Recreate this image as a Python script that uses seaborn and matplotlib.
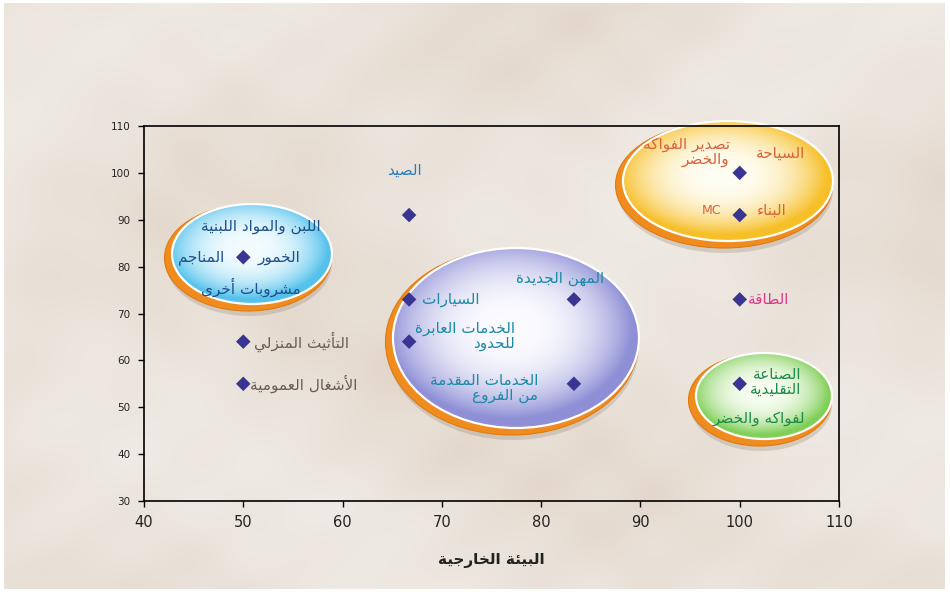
import numpy as np
import pandas as pd
import matplotlib
matplotlib.use("Agg")
import matplotlib.pyplot as plt
from matplotlib.patches import Ellipse
from matplotlib.colors import to_rgb
import seaborn as sns

# ---------------- data ----------------
x_vals = [50, 50, 50, 66.7, 66.7, 66.7, 83.3, 83.3, 100, 100, 100, 100]
y_vals = [82, 64, 55, 91, 73, 64, 73, 55, 100, 91, 73, 55]

x_ticks = [40, 50, 60, 70, 80, 90, 100, 110]
y_ticks = [30, 40, 50, 60, 70, 80, 90, 100, 110]
x_title = "البيئة الخارجية"

# labels: (point index, text)
label_point = [0, 0, 0, 0, 1, 2, 3, 4, 5, 6, 7, 8, 8, 9, 9, 10, 11, 11]
label_text = [
    "اللبن والمواد اللبنية", "المناجم", "الخمور", "مشروبات أخرى",
    "التأثيث المنزلي", "الأشغال العمومية", "الصيد", "السيارات",
    "الخدمات العابرة\nللحدود", "المهن الجديدة", "الخدمات المقدمة\nمن الفروع",
    "السياحة", "تصدير الفواكه\nوالخضر", "البناء", "MC", "الطاقة",
    "الصناعة\nالتقليدية", "لفواكه والخضر",
]

# ---------------- Arabic shaping (contextual forms + RTL order) ----------------
_TABLE = {
    0x0621: (0xFE80, 1), 0x0622: (0xFE81, 2), 0x0623: (0xFE83, 2), 0x0624: (0xFE85, 2),
    0x0625: (0xFE87, 2), 0x0626: (0xFE89, 4), 0x0627: (0xFE8D, 2), 0x0628: (0xFE8F, 4),
    0x0629: (0xFE93, 2), 0x062A: (0xFE95, 4), 0x062B: (0xFE99, 4), 0x062C: (0xFE9D, 4),
    0x062D: (0xFEA1, 4), 0x062E: (0xFEA5, 4), 0x062F: (0xFEA9, 2), 0x0630: (0xFEAB, 2),
    0x0631: (0xFEAD, 2), 0x0632: (0xFEAF, 2), 0x0633: (0xFEB1, 4), 0x0634: (0xFEB5, 4),
    0x0635: (0xFEB9, 4), 0x0636: (0xFEBD, 4), 0x0637: (0xFEC1, 4), 0x0638: (0xFEC5, 4),
    0x0639: (0xFEC9, 4), 0x063A: (0xFECD, 4), 0x0641: (0xFED1, 4), 0x0642: (0xFED5, 4),
    0x0643: (0xFED9, 4), 0x0644: (0xFEDD, 4), 0x0645: (0xFEE1, 4), 0x0646: (0xFEE5, 4),
    0x0647: (0xFEE9, 4), 0x0648: (0xFEED, 2), 0x0649: (0xFEEF, 2), 0x064A: (0xFEF1, 4),
}
_LAMALEF = {0x0622: (0xFEF5, 2), 0x0623: (0xFEF7, 2), 0x0625: (0xFEF9, 2), 0x0627: (0xFEFB, 2)}


def _shape_line(text):
    toks = []
    i = 0
    while i < len(text):
        c = ord(text[i])
        if c == 0x0644 and i + 1 < len(text) and ord(text[i + 1]) in _LAMALEF:
            toks.append(_LAMALEF[ord(text[i + 1])])
            i += 2
        elif c in _TABLE:
            toks.append(_TABLE[c])
            i += 1
        else:
            toks.append(text[i])
            i += 1
    if not any(isinstance(t, tuple) for t in toks):
        return text
    out = []
    for k, t in enumerate(toks):
        if isinstance(t, str):
            out.append(t)
            continue
        start, n = t
        prev = toks[k - 1] if k > 0 else None
        nxt = toks[k + 1] if k + 1 < len(toks) else None
        jp = isinstance(prev, tuple) and prev[1] == 4 and n >= 2
        jn = n == 4 and isinstance(nxt, tuple) and nxt[1] >= 2
        idx = 3 if (jp and jn) else 1 if jp else 2 if jn else 0
        out.append(chr(start + idx))
    return "".join(out[::-1])


def ar(text):
    return "\n".join(_shape_line(l) for l in text.split("\n"))


# ---------------- layout / style ----------------
W, H = 950, 592
fig = plt.figure(figsize=(W / 100, H / 100), dpi=100, facecolor="white")

# soft marble-like background
bg = fig.add_axes([4 / W, 3 / H, 941 / W, 586 / H], zorder=-10)
gy, gx = np.mgrid[0:1:300j, 0:1.6:480j]
v = (0.45 * np.sin(5 * gx + 2.5 * np.sin(4 * gy)) + 0.35 * np.sin(8 * gy + 2 * np.sin(5 * gx))
     + 0.15 * np.sin(29 * gx + 21 * gy + 3 * np.sin(7 * gy))
     + 0.12 * np.sin(37 * gy - 17 * gx + 2 * np.sin(9 * gx)))
v = (v - v.min()) / (v.max() - v.min())
base = np.array(to_rgb("#e6ddd3"))
light = np.array(to_rgb("#efeae4"))
warm = np.array(to_rgb("#e0d2c3"))
tex = base + (light - base) * v[..., None] + (warm - base) * (1 - v[..., None]) ** 4 * 0.6
bg.imshow(np.clip(tex, 0, 1), aspect="auto", extent=[0, 1, 0, 1], interpolation="bicubic")
bg.set_axis_off()

ax = fig.add_axes([144 / W, (H - 501) / H, (839 - 144) / W, (501 - 126) / H])
ax.patch.set_alpha(0)
ax.set_xlim(40, 110)
ax.set_ylim(30, 110)

PX_X = (839 - 144) / 70.0
PX_Y = (501 - 126) / 80.0


def d(px, py):
    return 40 + (px - 144) / PX_X, 110 - (py - 126) / PX_Y


def gradient_ellipse(cpx, cpy, wpx, hpx, center_col, edge_col, rim_dx=-4, rim_dy=4):
    cx, cy = d(cpx, cpy)
    w, h = wpx / PX_X, hpx / PX_Y
    sx, sy = d(cpx + rim_dx + 1, cpy + rim_dy + 5)
    ax.add_patch(Ellipse((sx, sy), (wpx + 6) / PX_X, (hpx + 6) / PX_Y, facecolor="#7a6a58",
                         alpha=0.22, edgecolor="none", zorder=0.5, clip_on=False))
    rx, ry = d(cpx + rim_dx, cpy + rim_dy)
    ax.add_patch(Ellipse((rx, ry), (wpx + 7) / PX_X, (hpx + 6) / PX_Y, facecolor="#f08c1e",
                         edgecolor="#e07a12", lw=0.8, zorder=0.6, clip_on=False))
    ell = Ellipse((cx, cy), w, h, facecolor="none", edgecolor="white", lw=1.6,
                  zorder=0.8, clip_on=False)
    ax.add_patch(ell)
    yy, xx = np.mgrid[-1:1:200j, -1:1:300j]
    r = np.clip(np.sqrt((xx + 0.05) ** 2 + (yy - 0.1) ** 2), 0, 1)
    t = r ** 2.6
    c0, c1 = np.array(to_rgb(center_col)), np.array(to_rgb(edge_col))
    img = c0 + (c1 - c0) * t[..., None]
    im = ax.imshow(img, extent=[cx - w / 2, cx + w / 2, cy - h / 2, cy + h / 2],
                   aspect="auto", zorder=0.7, interpolation="bilinear", origin="lower")
    im.set_clip_path(ell)
    im.set_clip_box(fig.bbox)


gradient_ellipse(252, 254, 160, 100, "#f4fcff", "#55c2ec")
gradient_ellipse(728, 181, 210, 120, "#fffef4", "#f7bf28")
gradient_ellipse(516, 338, 246, 180, "#fcfcff", "#8e8fd6")
gradient_ellipse(764, 396, 136, 86, "#f8fdf2", "#80cf58")
ax.set_xlim(40, 110)
ax.set_ylim(30, 110)

df = pd.DataFrame({"x": x_vals, "y": y_vals})
sns.scatterplot(data=df, x="x", y="y", marker="D", s=55, color="#3a3592",
                edgecolor="none", linewidth=0, ax=ax, zorder=5, legend=False)

# label offsets (pixels), sizes and colours
offsets = [(18, 31), (-42, 0), (36, 0), (8, -30), (58, 0), (60, 0), (-5, 45), (42, 0),
           (106, 6), (-14, 21), (-36, -4), (41, 20), (-10, 21), (32, 5), (-28, 5),
           (29, 0), (36, 2), (19, -35)]
sizes = [11] * 14 + [9] + [11] * 3
align = ["center", "center", "center", "center", "center", "center", "center", "center",
         "right", "center", "right", "center", "right", "center", "center", "center",
         "center", "center"]
colors = ["#1d4f8a"] * 4 + ["#6b5d55", "#6b5d55", "#2c7bb6", "#1a8aa6", "#1a8aa6",
                              "#1a8aa6", "#1a8aa6", "#d9623a", "#d9623a", "#d9623a",
                              "#d9623a", "#e0398c", "#1e8a4a", "#1e8a4a"]

for i, (pi, txt) in enumerate(zip(label_point, label_text)):
    ax.annotate(ar(txt), (x_vals[pi], y_vals[pi]), xytext=offsets[i],
                textcoords="offset pixels", ha=align[i], va="center",
                multialignment="right", fontsize=sizes[i], color=colors[i],
                family=["DejaVu Sans"], zorder=6, annotation_clip=False,
                linespacing=1.0)

for s in ax.spines.values():
    s.set_color("black")
    s.set_linewidth(1.2)
    s.set_zorder(3)

ax.set_xticks(x_ticks)
ax.set_yticks(y_ticks)
ax.set_xticklabels([str(t) for t in x_ticks], fontsize=10.5, color="#222222")
ax.set_yticklabels([str(t) for t in y_ticks], fontsize=7.5, color="#222222")
ax.tick_params(axis="both", direction="out", length=4, width=1, color="black")
ax.tick_params(axis="x", pad=6)
ax.tick_params(axis="y", pad=6)
ax.set_ylabel("")
ax.set_xlabel(ar(x_title), fontsize=11, fontweight="bold", color="#222222",
              family=["DejaVu Sans"])
ax.xaxis.set_label_coords(0.5, -0.14)

fig.savefig("out.png", dpi=100, facecolor="white")
